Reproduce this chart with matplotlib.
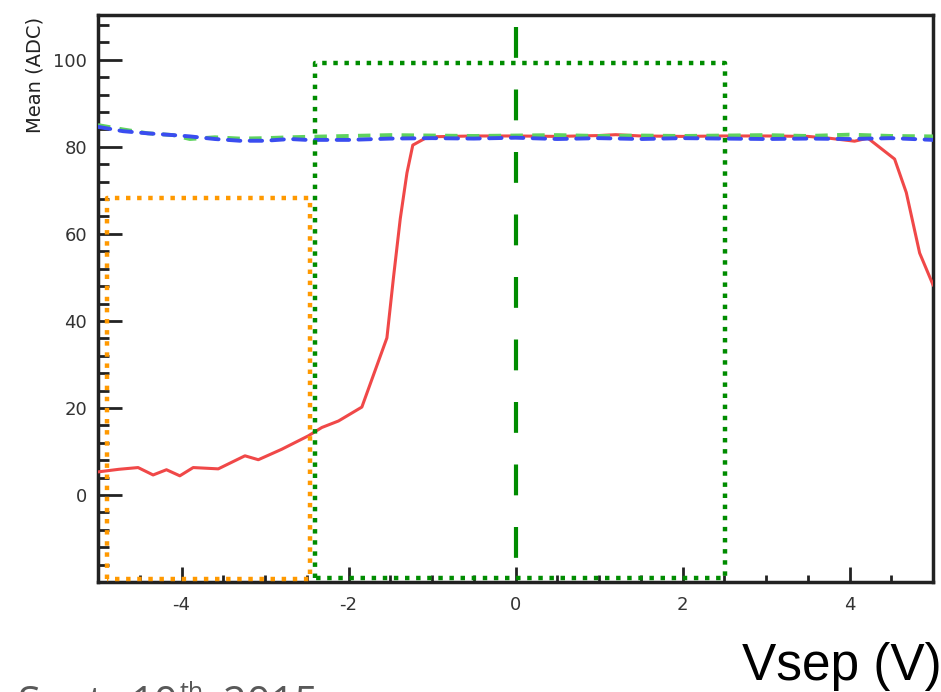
import matplotlib
matplotlib.use("Agg")
import matplotlib.pyplot as plt
from matplotlib.ticker import MultipleLocator

W, H = 941, 692

# mean signal vs separation voltage, one curve per channel
vsep_red = [-5.0, -4.75, -4.52, -4.34, -4.18, -4.02, -3.86, -3.56, -3.40, -3.24,
            -3.08, -2.80, -2.48, -2.32, -2.12, -1.84, -1.54, -1.46, -1.38, -1.30,
            -1.23, -1.05, -0.5, 0.0, 0.5, 1.0, 1.2, 1.5, 2.0, 2.5,
            3.0, 3.5, 3.75, 4.06, 4.22, 4.54, 4.68, 4.84, 5.0]
mean_red = [5.3, 5.9, 6.3, 4.6, 5.8, 4.4, 6.3, 6.0, 7.5, 9.0,
            8.1, 10.5, 13.6, 15.5, 17.0, 20.2, 36.1, 50.2, 63.5, 74.0,
            80.4, 82.3, 82.5, 82.5, 82.4, 82.6, 82.8, 82.5, 82.4, 82.5,
            82.5, 82.4, 82.0, 81.3, 82.0, 77.2, 69.5, 55.6, 48.3]

vsep_flat = [-5.0, -4.7, -4.4, -4.1, -3.9, -3.6, -3.3, -3.0, -2.7, -2.5, -2.0, -1.5, -1.0,
             -0.5, 0.0, 0.5, 1.0, 1.5, 2.0, 2.5, 3.0, 3.5, 4.0, 4.5, 5.0]
mean_blue = [84.6, 83.6, 83.1, 82.7, 82.4, 81.8, 81.4, 81.4, 81.8, 81.6, 81.6, 81.9, 82.0,
             81.9, 82.1, 81.8, 82.0, 81.8, 82.0, 81.9, 81.8, 81.9, 81.8, 82.0, 81.6]
mean_green = [85.0, 84.0, 83.1, 82.7, 81.8, 82.2, 81.9, 82.0, 82.2, 82.3, 82.5, 82.7, 82.6,
              82.5, 82.6, 82.7, 82.5, 82.6, 82.5, 82.6, 82.7, 82.5, 82.8, 82.5, 82.4]

# highlighted regions: (x0, x1, y0, y1)
orange_box = (-4.89, -2.46, -19.3, 68.3)
green_box = (-2.40, 2.51, -19.0, 99.2)
vline_x = 0.0
vline_span = (107.6, -17.2)

xticks = [-4, -2, 0, 2, 4]
yticks = [0, 20, 40, 60, 80, 100]

fig = plt.figure(figsize=(W / 100, H / 100), dpi=100)
ax = fig.add_axes([98 / W, 1 - 582 / H, (933 - 98) / W, (582 - 15) / H])
ax.set_xlim(-5, 5)
ax.set_ylim(-20, 110.3)

ax.plot(vsep_red, mean_red, color="#f04848", lw=2.2, zorder=3)
ax.plot(vsep_flat, mean_green, color="#5fd35f", lw=2.8, dashes=(3.2, 2.4), zorder=4)
ax.plot(vsep_flat, mean_blue, color="#3a4df0", lw=2.8, dashes=(3.2, 2.4),
        dash_capstyle="round", zorder=4)


def draw_box(box, color):
    x0, x1, y0, y1 = box
    ax.plot([x0, x0, x1, x1, x0], [y0, y1, y1, y0, y0], color=color, lw=3.2,
            linestyle=(0, (1, 1.5)), zorder=5, clip_on=False)


draw_box(orange_box, "#ff9900")
draw_box(green_box, "#008c00")
ax.plot([vline_x, vline_x], vline_span, color="#008c00", lw=3.0,
        dashes=(7.4, 7.6), zorder=6)

for side in ["left", "bottom", "top", "right"]:
    ax.spines[side].set_linewidth(2.5)
    ax.spines[side].set_color("#222222")

ax.set_xticks(xticks)
ax.set_yticks(yticks)
ax.xaxis.set_minor_locator(MultipleLocator(0.5))
ax.yaxis.set_minor_locator(MultipleLocator(4))
ax.tick_params(axis="both", which="both", direction="in", colors="#222222",
               labelcolor="#333333", labelsize=13, width=2)
ax.tick_params(axis="y", which="major", length=17, pad=8)
ax.tick_params(axis="y", which="minor", length=8)
ax.tick_params(axis="x", which="major", length=11, pad=10)
ax.tick_params(axis="x", which="minor", length=5)
ax.set_xticklabels([f"{t:d}" for t in xticks])

fig.text(35 / W, 1 - 75 / H, "Mean (ADC)", rotation=90, ha="center", va="center",
         fontsize=14, color="#222222")

fig.text(742 / W, 1 - 680 / H, "Vsep (V)", fontsize=37, family="Liberation Sans",
         color="black", ha="left", va="baseline")

# date footer, mostly below the bottom edge
foot = dict(family="Open Sans", color="#595959", ha="left", va="baseline")
fig.text(18 / W, 1 - 716 / H, "Sept", fontsize=30, **foot)
fig.text(130 / W, 1 - 716 / H, "10", fontsize=30, **foot)
fig.text(180 / W, 1 - 700 / H, "th", fontsize=18, **foot)
fig.text(223 / W, 1 - 716 / H, "2015", fontsize=30, **foot)

fig.savefig("out.png", dpi=100)
